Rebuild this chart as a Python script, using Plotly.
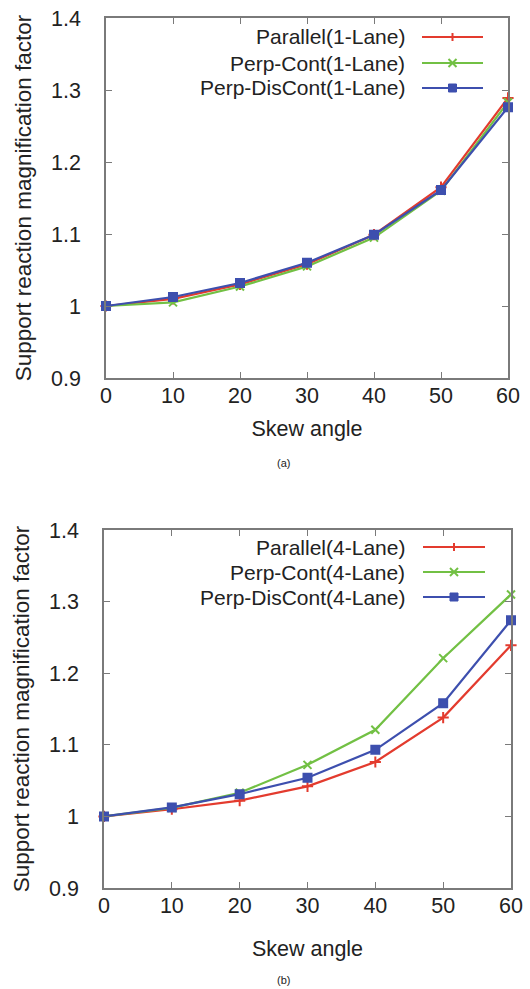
import plotly.graph_objects as go

# ---------------- data ----------------
skew_angle = [0, 10, 20, 30, 40, 50, 60]

parallel_1 = [1.000, 1.010, 1.030, 1.058, 1.099, 1.165, 1.289]
perp_cont_1 = [1.000, 1.005, 1.027, 1.055, 1.095, 1.160, 1.283]
perp_discont_1 = [1.000, 1.0125, 1.032, 1.060, 1.099, 1.161, 1.276]

parallel_4 = [1.000, 1.010, 1.022, 1.042, 1.076, 1.138, 1.239]
perp_cont_4 = [1.000, 1.012, 1.033, 1.072, 1.121, 1.221, 1.310]
perp_discont_4 = [1.000, 1.0125, 1.031, 1.054, 1.093, 1.158, 1.274]

names_1 = ["Parallel(1-Lane)", "Perp-Cont(1-Lane)", "Perp-DisCont(1-Lane)"]
names_4 = ["Parallel(4-Lane)", "Perp-Cont(4-Lane)", "Perp-DisCont(4-Lane)"]

x_ticks = [0, 10, 20, 30, 40, 50, 60]
y_ticks = [0.9, 1.0, 1.1, 1.2, 1.3, 1.4]
y_tick_labels = ["0.9", "1", "1.1", "1.2", "1.3", "1.4"]

x_title = "Skew angle"
y_title = "Support reaction magnification factor"
captions = ["(a)", "(b)"]

# ---------------- style ----------------
W, H = 530, 989
FONT = "Liberation Sans, Arial, sans-serif"
TXT = "#222222"
FRAME = "#7a7a7a"
colors = ["#e33b2e", "#72c044", "#3d4fae"]
symbols = ["cross-thin", "x-thin", "square"]
msizes = [8, 8, 8]

def px_x(p):
    return p / W

def px_y(p):
    return 1 - p / H

# plot areas in pixels
top_box = dict(x0=106, x1=508, y0=18, y1=378)
bot_box = dict(x0=104, x1=511, y0=530, y1=888)

fig = go.Figure()

series_sets = [
    ([parallel_1, perp_cont_1, perp_discont_1], names_1, "x", "y"),
    ([parallel_4, perp_cont_4, perp_discont_4], names_4, "x2", "y2"),
]

for vals_list, names, xa, ya in series_sets:
    for i, (vals, nm) in enumerate(zip(vals_list, names)):
        fig.add_trace(go.Scatter(
            x=skew_angle, y=vals, name=nm, xaxis=xa, yaxis=ya,
            mode="lines+markers", cliponaxis=False, showlegend=False,
            line=dict(color=colors[i], width=2.2),
            marker=dict(symbol=symbols[i], size=msizes[i], color=colors[i],
                        line=dict(color=colors[i], width=2)),
        ))

def axis_common():
    return dict(
        showline=True, linecolor=FRAME, linewidth=1.6, mirror="ticks",
        ticks="inside", ticklen=6, tickwidth=1.3, tickcolor=FRAME,
        showgrid=False, zeroline=False, automargin=False,
        tickfont=dict(family=FONT, size=21.5, color=TXT),
    )

def xaxis(box, anchor, title_standoff):
    d = axis_common()
    d.update(domain=[px_x(box["x0"]), px_x(box["x1"])], range=[0, 60],
             tickvals=x_ticks, anchor=anchor, ticklabelstandoff=-3,
             title=dict(text=x_title, font=dict(family=FONT, size=21.5, color=TXT),
                        standoff=title_standoff))
    return d

def yaxis(box, anchor):
    d = axis_common()
    d.update(domain=[px_y(box["y1"]), px_y(box["y0"])], range=[0.9, 1.4],
             tickvals=y_ticks, ticktext=y_tick_labels, anchor=anchor, ticklabelstandoff=19,
             title=dict(text=y_title, font=dict(family=FONT, size=22.5, color=TXT), standoff=13))
    return d

fig.update_layout(
    width=W, height=H,
    margin=dict(l=0, r=0, t=0, b=0, autoexpand=False),
    paper_bgcolor="white", plot_bgcolor="white",
    xaxis=xaxis(top_box, "y", 14), yaxis=yaxis(top_box, "x"),
    xaxis2=xaxis(bot_box, "y2", 24), yaxis2=yaxis(bot_box, "x2"),
    showlegend=False,
)

# ---------------- custom legends (text left, sample right, gnuplot style) ----------------
shapes = []
annotations = []
legend_specs = [
    (names_1, 407, 422, 483, [37, 63, 88]),
    (names_4, 407, 423, 485, [547, 572, 597]),
]
for names, text_right, lx0, lx1, rows in legend_specs:
    for i, (nm, ry) in enumerate(zip(names, rows)):
        annotations.append(dict(
            text=nm, x=px_x(text_right), y=px_y(ry), xref="paper", yref="paper",
            xanchor="right", yanchor="middle", showarrow=False,
            font=dict(family=FONT, size=21, color=TXT),
        ))
        shapes.append(dict(type="line", xref="paper", yref="paper",
                           x0=px_x(lx0), x1=px_x(lx1), y0=px_y(ry), y1=px_y(ry),
                           line=dict(color=colors[i], width=2.2)))
        cx = (lx0 + lx1) / 2
        s = 4
        if symbols[i] == "square":
            shapes.append(dict(type="rect", xref="paper", yref="paper",
                               x0=px_x(cx - s), x1=px_x(cx + s), y0=px_y(ry + s), y1=px_y(ry - s),
                               fillcolor=colors[i], line=dict(color=colors[i], width=1)))
        elif symbols[i] == "cross-thin":
            shapes.append(dict(type="line", xref="paper", yref="paper",
                               x0=px_x(cx), x1=px_x(cx), y0=px_y(ry - s), y1=px_y(ry + s),
                               line=dict(color=colors[i], width=2)))
        else:
            for a, b in [(-1, 1), (1, -1)]:
                shapes.append(dict(type="line", xref="paper", yref="paper",
                                   x0=px_x(cx - s), x1=px_x(cx + s),
                                   y0=px_y(ry + a * s), y1=px_y(ry + b * s),
                                   line=dict(color=colors[i], width=2)))

for cap, cy in zip(captions, [463, 980]):
    annotations.append(dict(
        text=cap, x=px_x(283), y=px_y(cy), xref="paper", yref="paper",
        xanchor="center", yanchor="middle", showarrow=False,
        font=dict(family=FONT, size=11, color=TXT),
    ))

fig.update_layout(shapes=shapes, annotations=annotations)

fig.write_html(
    "out.html",
    config={"displayModeBar": False},
    post_script="document.body.style.margin='0';document.body.style.overflow='hidden';",
)
